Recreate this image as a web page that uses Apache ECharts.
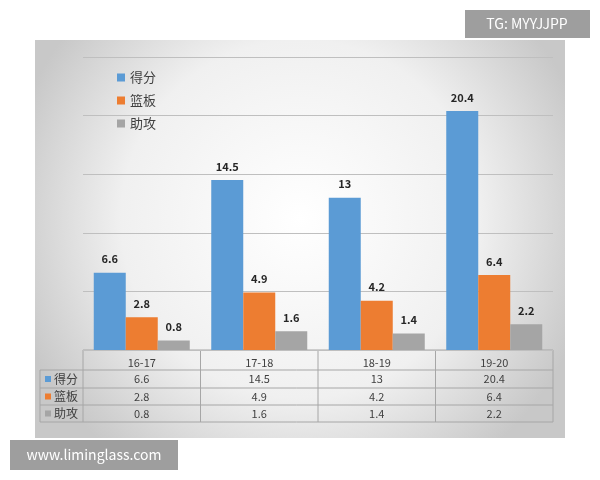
<!DOCTYPE html>
<html><head><meta charset="utf-8">
<script src="https://cdn.jsdelivr.net/npm/echarts@6/dist/echarts.min.js"></script>
<style>html,body{margin:0;background:#fff}#c{width:600px;height:480px}</style>
</head><body><div id="c"></div>
<script>
var categories = ['16-17', '17-18', '18-19', '19-20'];
var seriesNames = ['得分', '篮板', '助攻'];
var points = [6.6, 14.5, 13, 20.4];
var rebounds = [2.8, 4.9, 4.2, 6.4];
var assists = [0.8, 1.6, 1.4, 2.2];
var colors = ['#5b9bd5', '#ed7d31', '#a5a5a5'];
var allData = [points, rebounds, assists];

var chart = echarts.init(document.getElementById('c'));
var G = {left: 83, right: 47, top: 57, bottom: 130}; // plot: x 83..553, y 57..350
var font = '"Noto Sans CJK SC", sans-serif';

var graphics = [
  {type: 'rect', z: -10, silent: true, shape: {x: 35, y: 40, width: 530, height: 398},
   style: {fill: {type: 'radial', x: 0.5, y: 0.45, r: 0.75,
     colorStops: [{offset: 0, color: '#ffffff'}, {offset: 0.6, color: '#f0f0f0'}, {offset: 1, color: '#c8c8c8'}]}}},
  {type: 'rect', shape: {x: 465, y: 10, width: 125, height: 28}, style: {fill: '#9e9e9e'}},
  {type: 'text', x: 527, y: 24, style: {text: 'TG: MYYJJPP', fill: '#fff', font: '14px ' + font, align: 'center', verticalAlign: 'middle'}},
  {type: 'rect', shape: {x: 10, y: 440, width: 168, height: 30}, style: {fill: '#9e9e9e'}},
  {type: 'text', x: 94, y: 455, style: {text: 'www.liminglass.com', fill: '#fff', font: '14px ' + font, align: 'center', verticalAlign: 'middle'}}
];

// data table
var rowY = [350, 370, 388, 405, 422];
var colW = 470 / categories.length;
var lineStyle = {stroke: '#a6a6a6', lineWidth: 1};
graphics.push({type: 'line', shape: {x1: 83, y1: 350, x2: 553, y2: 350}, style: lineStyle});
for (var r = 1; r < rowY.length; r++) {
  graphics.push({type: 'line', shape: {x1: 40, y1: rowY[r], x2: 553, y2: rowY[r]}, style: lineStyle});
}
graphics.push({type: 'line', shape: {x1: 40, y1: 370, x2: 40, y2: 422}, style: lineStyle});
for (var c = 0; c <= categories.length; c++) {
  graphics.push({type: 'line', shape: {x1: 83 + c * colW, y1: 350, x2: 83 + c * colW, y2: 422}, style: lineStyle});
}
seriesNames.forEach(function (name, s) {
  var cy = (rowY[s + 1] + rowY[s + 2]) / 2;
  graphics.push({type: 'rect', shape: {x: 45, y: cy - 3, width: 6, height: 6}, style: {fill: colors[s]}});
  graphics.push({type: 'text', x: 54, y: cy, style: {text: name, fill: '#404040', font: '12px ' + font, verticalAlign: 'middle'}});
  allData[s].forEach(function (v, i) {
    graphics.push({type: 'text', x: 83 + (i + 0.5) * colW, y: cy,
      style: {text: String(v), fill: '#404040', font: '11px ' + font, align: 'center', verticalAlign: 'middle'}});
  });
});

chart.setOption({
  animation: false,
  textStyle: {fontFamily: font},
  color: colors,
  grid: G,
  legend: {
    orient: 'vertical', left: 112, top: 66, itemGap: 10, itemWidth: 8, itemHeight: 8, icon: 'rect',
    textStyle: {color: '#404040', fontSize: 13}, data: seriesNames
  },
  xAxis: {
    type: 'category', data: categories,
    axisLine: {show: false}, axisTick: {show: false},
    axisLabel: {color: '#404040', fontSize: 11, margin: 7}
  },
  yAxis: {
    type: 'value', min: 0, max: 25, interval: 5, show: true,
    axisLabel: {show: false}, axisLine: {show: false}, axisTick: {show: false},
    splitLine: {lineStyle: {color: '#bfbfbf'}}
  },
  graphic: graphics,
  series: seriesNames.map(function (name, s) {
    return {
      name: name, type: 'bar', data: allData[s], barWidth: 32, barGap: '0%',
      label: {show: true, position: 'top', fontWeight: 'bold', fontSize: 11, color: '#262626', distance: 8}
    };
  })
});
</script></body></html>
